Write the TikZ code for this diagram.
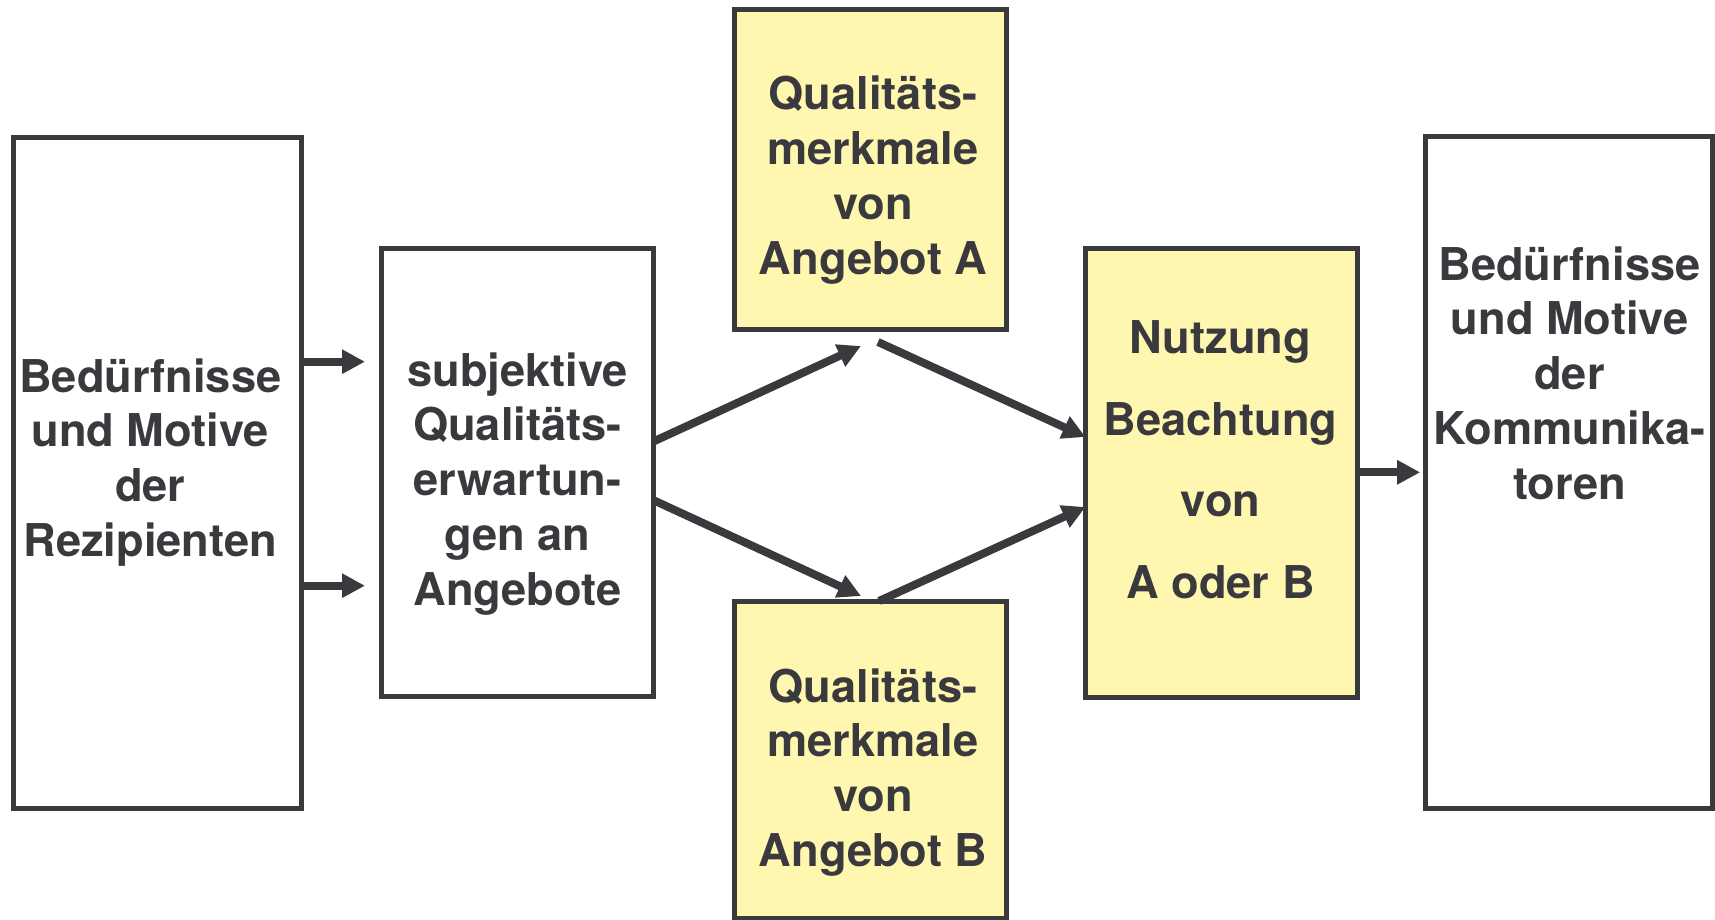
\documentclass[tikz,border=0pt]{standalone}
\usepackage{fontspec}
\setmainfont{TeX Gyre Heros}
\usetikzlibrary{arrows.meta}
\definecolor{ink}{RGB}{58,57,62}
\definecolor{paleyellow}{RGB}{255,247,176}

\begin{document}
\begin{tikzpicture}[x=0.5pt,y=-0.5pt,
  box/.style={rectangle,draw=ink,line width=2.5pt,inner sep=0pt,outer sep=0pt},
  plainbox/.style={box,fill=white},
  yellowbox/.style={box,fill=paleyellow},
  boxtext/.style={text=ink,font=\fontsize{22.6pt}{27.4pt}\selectfont\bfseries,
    align=center,inner sep=0pt},
  widetext/.style={boxtext,font=\fontsize{22.6pt}{40.9pt}\selectfont\bfseries},
  arr/.style={draw=ink,line width=4pt,
    -{Triangle[length=11.5pt,width=11.5pt]}}]

\useasboundingbox (0,0) rectangle (1715,920);

% frames
\node[plainbox,minimum width=144pt,minimum height=335.25pt] (left) at (157.5,472.75) {};
\node[plainbox,minimum width=135.75pt,minimum height=224.25pt] (expect) at (517.25,472.5) {};
\node[yellowbox,minimum width=136pt,minimum height=159.75pt] (offerA) at (870,169.25) {};
\node[yellowbox,minimum width=136pt,minimum height=158.5pt] (offerB) at (870,759.5) {};
\node[yellowbox,minimum width=136pt,minimum height=224.5pt] (use) at (1221.5,472.5) {};
\node[plainbox,minimum width=143.75pt,minimum height=335.5pt] (right) at (1568.75,472.5) {};

% texts
\node[boxtext] (leftText) at (150.3,462.4) {Bedürfnisse\\und Motive\\der\\Rezipienten};
\node[boxtext] (expectText) at (517.5,483.8) {subjektive\\Qualitäts-\\erwartun-\\gen an\\Angebote};
\node[boxtext] (offerAText) at (873,180) {Qualitäts-\\merkmale\\von\\Angebot A};
\node[boxtext] (offerBText) at (873,772.3) {Qualitäts-\\merkmale\\von\\Angebot B};
\node[widetext] (useText) at (1220.5,459.7) {Nutzung\\Beachtung\\von\\A oder B};
\node[boxtext] (rightText) at (1569.5,373) {Bedürfnisse\\und Motive\\der\\Kommunika-\\toren};

% free ends of the diagonal connectors
\coordinate (tipA) at (861,346);
\coordinate (tipB) at (861,596);
\coordinate (tailA) at (878,342);

% connectors
\draw[arr,shorten >=8.25pt] (left.east |- 0,361.7) -- (expect.west |- 0,361.7);
\draw[arr,shorten >=8.25pt] (left.east |- 0,585.7) -- (expect.west |- 0,585.7);
\draw[arr] (expect.east |- 0,441.7) -- (tipA);
\draw[arr] (expect.east |- 0,500) -- (tipB);
\draw[arr] (tailA) -- (use.west |- 0,437);
\draw[arr] ([xshift=4.5pt]offerB.north) -- (use.west |- 0,507);
\draw[arr,shorten >=2.4pt] (use.east |- 0,472.3) -- (right.west |- 0,472.3);
\end{tikzpicture}
\end{document}
